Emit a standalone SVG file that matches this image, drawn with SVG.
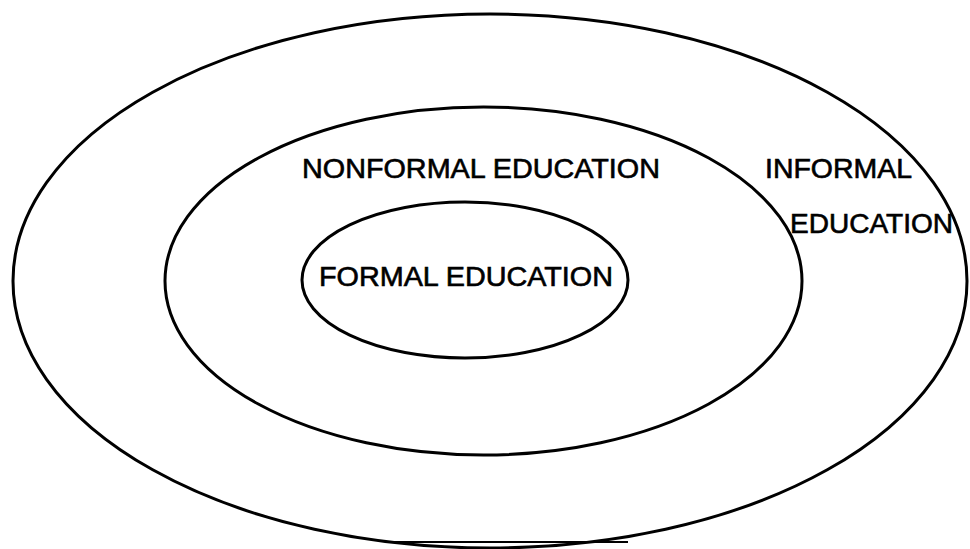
<svg xmlns="http://www.w3.org/2000/svg" width="970" height="549" viewBox="0 0 970 549">
<style>
.ring{fill:none;stroke:#000;stroke-width:3}
.lbl{font-family:"Liberation Sans",Arial,sans-serif;font-size:27px;fill:#000;stroke:#000;stroke-width:0.6}
</style>
<rect width="970" height="549" fill="#fff"/>
<g id="informal">
<ellipse class="ring" cx="490" cy="281" rx="477" ry="267"/>
<text class="lbl" x="765" y="178" textLength="147" lengthAdjust="spacingAndGlyphs">INFORMAL</text>
<text class="lbl" x="790" y="233" textLength="163" lengthAdjust="spacingAndGlyphs">EDUCATION</text>
</g>
<g id="nonformal">
<ellipse class="ring" cx="483.5" cy="281" rx="318.5" ry="174"/>
<text class="lbl" x="302" y="178" textLength="358" lengthAdjust="spacingAndGlyphs">NONFORMAL EDUCATION</text>
</g>
<g id="formal">
<ellipse class="ring" cx="465" cy="280" rx="163" ry="78"/>
<text class="lbl" x="319" y="286" textLength="294" lengthAdjust="spacingAndGlyphs">FORMAL EDUCATION</text>
</g>
<g id="connectors">
<line x1="392" y1="542" x2="628" y2="542" stroke="#000" stroke-width="2"/>
</g>
</svg>
